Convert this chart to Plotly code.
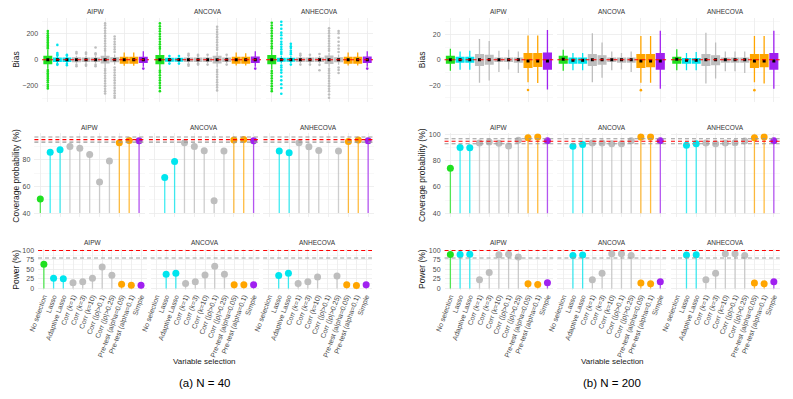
import plotly.graph_objects as go

W, H = 793, 399

methods = ["AIPW", "ANCOVA", "ANHECOVA"]
selections = ["No selection", "Lasso", "Adaptive Lasso", "Corr (k=1)", "Corr (k=3)", "Corr (k=10)",
              "Corr (|ρ|>0.1)", "Corr (|ρ|>0.25)", "Pre-test (alpha=0.05)", "Pre-test (alpha=0.1)", "Simple"]
sel_colors = ["#1fe01f", "#00e5ee", "#00e5ee", "#bebebe", "#bebebe", "#bebebe",
              "#bebebe", "#bebebe", "#ffa500", "#ffa500", "#a020f0"]

# coverage probability (%), None = not shown
cov40_aipw = [50.6, 85.6, 87.4, 89.9, 88.6, 83.9, 63.2, 79.0, 92.6, 94.3, 94.1]
cov40_ancova = [None, 66.7, 78.7, 92.6, 89.9, 86.7, 49.3, 86.4, 94.8, 95.0, 94.1]
cov40_anhecova = [None, 86.4, 85.2, 92.6, 89.6, 86.9, None, 86.4, 93.6, 94.8, 94.1]
cov200_aipw = [74.4, 90.3, 90.1, 93.6, 94.4, 93.4, 91.4, 95.7, 97.7, 98.2, 95.4]
cov200_ancova = [None, 91.1, 92.6, 93.6, 93.6, 93.1, 93.1, 95.4, 98.2, 98.2, 95.4]
cov200_anhecova = [None, 91.9, 93.1, 93.6, 93.1, 93.6, 93.8, 95.1, 97.7, 98.2, 95.4]

# power (%)
pow40_aipw = [63.4, 26.9, 25.1, 14.7, 17.3, 26.9, 56.4, 34.7, 11.2, 8.6, 8.6]
pow40_ancova = [None, 37.3, 39.9, 13.0, 17.3, 35.5, 58.2, 37.3, 9.5, 9.5, 9.5]
pow40_anhecova = [None, 33.9, 39.9, 13.0, 17.3, 30.3, None, 33.0, 9.5, 7.8, 9.5]
pow200_aipw = [89.6, 89.6, 90.4, 22.5, 41.6, 88.7, 90.4, 82.6, 12.0, 10.4, 14.7]
pow200_ancova = [None, 87.0, 87.8, 22.5, 39.9, 91.2, 91.2, 87.0, 13.9, 12.0, 17.3]
pow200_anhecova = [None, 87.8, 88.7, 22.5, 39.9, 91.2, 91.2, 87.0, 13.9, 12.0, 17.3]

# bias boxes: (lower whisker, q1, median, q3, upper whisker)
bias40_aipw = [(-70, -30, 0, 25, 75), (-25, -12, 0, 12, 28), (-25, -12, 0, 12, 25), (-30, -14, 0, 14, 30),
               (-30, -13, 0, 13, 30), (-30, -13, 0, 13, 30), (-60, -25, 0, 25, 60), (-40, -15, 0, 15, 40),
               (-46, -26, 0, 18, 56), (-46, -26, 0, 18, 56), (-55, -20, 0, 18, 65)]
bias40_ancova = [(-75, -31, 0, 31, 75), (-20, -10, 0, 10, 18), (-20, -10, 0, 10, 18), (-28, -12, 0, 12, 28),
                 (-25, -12, 0, 12, 25), (-25, -12, 0, 12, 25), (-60, -25, 0, 25, 60), (-25, -12, 0, 12, 25),
                 (-44, -26, 0, 18, 56), (-44, -26, 0, 18, 50), (-55, -20, 0, 20, 65)]
bias40_anhecova = [(-75, -31, 0, 31, 75), (-30, -10, 0, 10, 30), (-25, -10, 0, 10, 28), (-28, -12, 0, 12, 28),
                   (-25, -12, 0, 12, 25), (-28, -12, 0, 12, 28), (-55, -28, 0, 28, 55), (-40, -15, 0, 15, 40),
                   (-44, -26, 0, 18, 56), (-44, -26, 0, 18, 56), (-55, -20, 0, 20, 65)]
out40_aipw = [[223, 205, 190, 175, 160, 148, 135, 122, 110, 98, 88, -80, -92, -105, -118, -132, -145, -160, -175, -195, -210, -223],
              [115, 52, 40, 33, -33, -40], [38, 32, -32, -42], [59, 48, -40, -51], [56, 45, -38, -46],
              [95, 50, 40, -40, -51],
              [282, 265, 245, 225, 205, 185, 165, 145, 125, 105, 85, 70, -70, -85, -105, -125, -145, -165, -185, -205, -225, -245, -262],
              [180, 160, 140, 120, 100, 80, 60, -60, -80, -100, -120, -140, -160, -180, -200, -220, -240, -260, -280, -295],
              [], [], [-69]]
out40_ancova = [[282, 260, 240, 220, 200, 180, 160, 140, 120, 100, 85, -85, -100, -120, -140, -160, -180, -200, -220, -244],
                [28, -30], [28, -30], [46, 35, -35, -46], [38, 30, -30, -38], [38, -38],
                [256, 235, 215, 195, 175, 155, 135, 115, 95, 78, -78, -95, -115, -135, -155, -175, -195, -215, -238],
                [38, -38], [], [], [-69]]
out40_anhecova = [[287, 265, 245, 225, 205, 185, 165, 145, 125, 105, 88, -88, -105, -125, -145, -165, -185, -205, -225, -244],
                  [295, 270, 240, 210, 190, 165, 140, 120, 100, 80, 60, 45, -45, -60, -80, -100, -130, -160, -190, -220, -264],
                  [123, 105, 90, 70, 55, 42, -38], [46, 35, -38], [38, -38], [44, -40, -82],
                  [244, 225, 205, 185, 165, 145, 125, 105, 85, 70, -70, -85, -105, -125, -145, -165, -185, -205, -225, -245, -270, -295],
                  [223, 205, 170, 140, 110, 85, 60, -60, -80, -103], [], [], [-69]]

bias200_aipw = [(-8.6, -2.6, 0, 2.6, 8.6), (-8, -1.8, 0, 1.8, 6.5), (-8, -1.8, 0, 1.8, 7), (-18.2, -4.4, 0, 3.9, 16.4),
                (-16.4, -3.4, 0, 3.4, 14.8), (-9.6, -1.3, 0, 1.3, 7), (-7.8, -1.3, 0, 1.3, 7.8), (-10.4, -1.8, 0, 1.3, 6.5),
                (-17.7, -6, -1, 4.7, 19), (-18.4, -5.2, -1, 4.7, 19), (-23.4, -7.3, -1, 5.2, 23.4)]
bias200_ancova = [(-8.6, -2.6, 0.3, 2.6, 7.8), (-8.3, -2.6, -0.5, 1.3, 5.2), (-8.3, -2.6, -0.5, 1.3, 5.2),
                  (-17.7, -4.4, 0, 3.9, 20.8), (-14.3, -3.4, 0, 3.1, 13.5), (-8.3, -1.3, 0, 1.3, 6.5),
                  (-7.8, -1.8, 0, 1.3, 5.2), (-9.6, -1.8, 0, 1.3, 6.5), (-18.2, -6, -1, 3.9, 18.7),
                  (-18.2, -5.5, -1, 3.9, 18.7), (-22.9, -7.3, -1, 4.7, 22.9)]
bias200_anhecova = [(-8.3, -2.6, 0.3, 1.8, 8.3), (-8.3, -2.6, -0.5, 0.8, 5.2), (-8.3, -2.6, -0.5, 0.8, 6.0),
                    (-18.7, -4.4, 0, 3.9, 21.3), (-14.8, -3.9, 0, 3.1, 13.5), (-9.1, -1.8, 0, 1.3, 6.5),
                    (-9.1, -1.8, 0, 1.3, 6.5), (-10.4, -1.8, 0, 1.3, 6.5), (-17.7, -6, -1, 3.9, 18.7),
                    (-18.7, -5.5, -1, 3.9, 18.7), (-22.9, -7.3, -1, 4.7, 22.9)]
out200_aipw = [[], [], [], [], [], [], [], [], [-23.9], [], []]
out200_ancova = [[], [], [], [], [], [], [], [], [-24], [], []]
out200_anhecova = [[], [], [], [], [], [], [], [], [-24], [], []]

cov_band = 1.91  # +/- band round the nominal 95%

# layout (pixels)
panels = [
    dict(label="(a) N = 40", cx=197,
         bias=[bias40_aipw, bias40_ancova, bias40_anhecova], out=[out40_aipw, out40_ancova, out40_anhecova],
         cov=[cov40_aipw, cov40_ancova, cov40_anhecova], pw=[pow40_aipw, pow40_ancova, pow40_anhecova],
         brange=[-325, 325], bticks=[-200, 0, 200], bminor=[-300, -100, 100, 300],
         crange=[37.15, 99.75], cticks=[40, 60, 80],
         cols=[[(32.5, 140.8), (146, 254.2), (259.3, 367.6)],
               [(24.7, 136.7), (140.7, 252.7), (256.7, 368.7)],
               [(28.4, 138.6), (142.4, 252.6), (256.4, 366.6)]],
         ytitle_x=6.5),
    dict(label="(b) N = 200", cx=610,
         bias=[bias200_aipw, bias200_ancova, bias200_anhecova], out=[out200_aipw, out200_ancova, out200_anhecova],
         cov=[cov200_aipw, cov200_ancova, cov200_anhecova], pw=[pow200_aipw, pow200_ancova, pow200_anhecova],
         brange=[-33, 33], bticks=[-20, 0, 20], bminor=[-30, -10, 10, 30],
         crange=[37.1, 101.1], cticks=[40, 60, 80, 100],
         cols=[[(440.1, 550.2), (554.4, 664.5), (669.4, 779.5)]] * 3,
         ytitle_x=418),
]
rows_px = [(16, 100.6), (132.6, 217.1), (249.1, 291.2)]
strip_y = [10, 126.5, 243]
ytitles = [("Bias", 58), ("Coverage probability (%)", 175), ("Power (%)", 270)]

FONT = "Liberation Sans"
GRID = "#ebebeb"
MINOR = "#f4f4f4"
TXT = "#4d4d4d"


def fx(px):
    return px / W


def fy(py):
    return 1 - py / H


fig = go.Figure()
annotations = []
shapes = []
axes = {}

for p, pan in enumerate(panels):
    for r in range(3):
        top, bot = rows_px[r]
        for c in range(3):
            k = p * 9 + r * 3 + c + 1
            sfx = "" if k == 1 else str(k)
            xa, ya = "x" + sfx, "y" + sfx
            x0, x1 = pan["cols"][r][c]
            axes["xaxis" + sfx] = dict(
                domain=[fx(x0), fx(x1)], anchor=ya, type="category", categoryorder="array",
                categoryarray=selections, range=[-0.6, 10.6], showgrid=True, gridcolor=GRID, gridwidth=0.8,
                zeroline=False, showline=False, ticks="", showticklabels=(r == 2), tickangle=-70,
                tickfont=dict(size=7, color=TXT, family=FONT), fixedrange=True)
            if r == 0:
                yr, yt, ym = pan["brange"], pan["bticks"], pan["bminor"]
            elif r == 1:
                yr, yt, ym = pan["crange"], pan["cticks"], [50, 70, 90]
            else:
                yr, yt, ym = [-5, 105], [0, 25, 50, 75, 100], [12.5, 37.5, 62.5, 87.5]
            axes["yaxis" + sfx] = dict(
                domain=[fy(bot), fy(top)], anchor=xa, range=yr, tickvals=yt,
                ticktext=[str(v).replace("-", "\u2212") for v in yt], showgrid=True, gridcolor=GRID,
                gridwidth=0.8, zeroline=False, showline=False, ticks="", showticklabels=(c == 0),
                tickfont=dict(size=7, color=TXT, family=FONT), ticklabelstandoff=3,
                minor=dict(tickvals=ym, showgrid=True, gridcolor=MINOR, gridwidth=0.6), fixedrange=True)

            # facet strip title
            annotations.append(dict(text=methods[c], x=fx((x0 + x1) / 2), y=fy(strip_y[r]), xref="paper",
                                    yref="paper", showarrow=False, xanchor="center", yanchor="middle",
                                    font=dict(size=6.5, color="#333333", family=FONT)))

            if r == 0:
                stats = pan["bias"][c]
                outs = pan["out"][c]
                for i, s in enumerate(selections):
                    lo, q1, md, q3, hi = stats[i]
                    col = sel_colors[i]
                    fig.add_trace(go.Box(x=[s], lowerfence=[lo], q1=[q1], median=[md], q3=[q3], upperfence=[hi],
                                         fillcolor=col, line=dict(color=col, width=1.3), width=0.8,
                                         whiskerwidth=0, boxpoints=False, showlegend=False, hoverinfo="skip",
                                         xaxis=xa, yaxis=ya))
                ox, oy, oc = [], [], []
                for i, s in enumerate(selections):
                    for v in outs[i]:
                        ox.append(s)
                        oy.append(v)
                        oc.append(sel_colors[i])
                fig.add_trace(go.Scatter(x=ox, y=oy, mode="markers", marker=dict(size=2.6, color=oc),
                                         showlegend=False, hoverinfo="skip", xaxis=xa, yaxis=ya))
                fig.add_trace(go.Scatter(x=selections, y=[st[2] for st in stats], mode="markers",
                                         marker=dict(size=3, color="black", symbol="square"),
                                         showlegend=False, hoverinfo="skip", xaxis=xa, yaxis=ya))
                shapes.append(dict(type="line", xref=xa + " domain", yref=ya, x0=0, x1=1, y0=0, y1=0,
                                   line=dict(color="red", width=1.1, dash="4px,3px")))
            else:
                vals = pan["cov"][c] if r == 1 else pan["pw"][c]
                base = 40 if r == 1 else 0
                for i, s in enumerate(selections):
                    if vals[i] is None:
                        continue
                    fig.add_trace(go.Scatter(x=[s, s], y=[base, vals[i]], mode="lines",
                                             line=dict(color=sel_colors[i], width=1.3), opacity=0.75,
                                             showlegend=False, hoverinfo="skip", xaxis=xa, yaxis=ya))
                mx = [s for i, s in enumerate(selections) if vals[i] is not None]
                my = [v for v in vals if v is not None]
                mc = [sel_colors[i] for i, v in enumerate(vals) if v is not None]
                fig.add_trace(go.Scatter(x=mx, y=my, mode="markers", marker=dict(size=7, color=mc),
                                         showlegend=False, hoverinfo="skip", xaxis=xa, yaxis=ya))
                if r == 1:
                    for yv, colr in [(95 + cov_band, "#999999"), (95, "red"), (95 - cov_band, "#999999")]:
                        shapes.append(dict(type="line", xref=xa + " domain", yref=ya, x0=0, x1=1, y0=yv, y1=yv,
                                           line=dict(color=colr, width=1.1, dash="4px,3px")))
                else:
                    for yv, colr in [(100, "red"), (80, "#999999")]:
                        shapes.append(dict(type="line", xref=xa + " domain", yref=ya, x0=0, x1=1, y0=yv, y1=yv,
                                           line=dict(color=colr, width=1.1, dash="4px,3px")))

        # y-axis title for the row
        t, ty = ytitles[r]
        annotations.append(dict(text=t, x=fx(pan["ytitle_x"]), y=fy(ty), xref="paper", yref="paper",
                                showarrow=False, textangle=-90, xanchor="center", yanchor="middle",
                                font=dict(size=8.5, color="#1a1a1a", family=FONT)))

    annotations.append(dict(text="Variable selection", x=fx(pan["cx"]), y=fy(363), xref="paper", yref="paper",
                            showarrow=False, xanchor="center", yanchor="middle",
                            font=dict(size=8, color="#1a1a1a", family=FONT)))
    annotations.append(dict(text=pan["label"], x=fx(pan["cx"]), y=fy(385), xref="paper", yref="paper",
                            showarrow=False, xanchor="center", yanchor="middle",
                            font=dict(size=11.5, color="black", family=FONT)))

fig.update_layout(
    width=W, height=H, autosize=False,
    margin=dict(l=0, r=0, t=0, b=0),
    paper_bgcolor="white", plot_bgcolor="white",
    showlegend=False, boxmode="overlay",
    font=dict(family=FONT, size=7, color=TXT),
    annotations=annotations, shapes=shapes,
    **axes,
)

# drop the page's default body margin so the figure sits at the window origin
fig.write_html("out.html", config={"displayModeBar": False, "staticPlot": True},
               post_script="document.body.style.margin='0';document.body.style.overflow='hidden';")
